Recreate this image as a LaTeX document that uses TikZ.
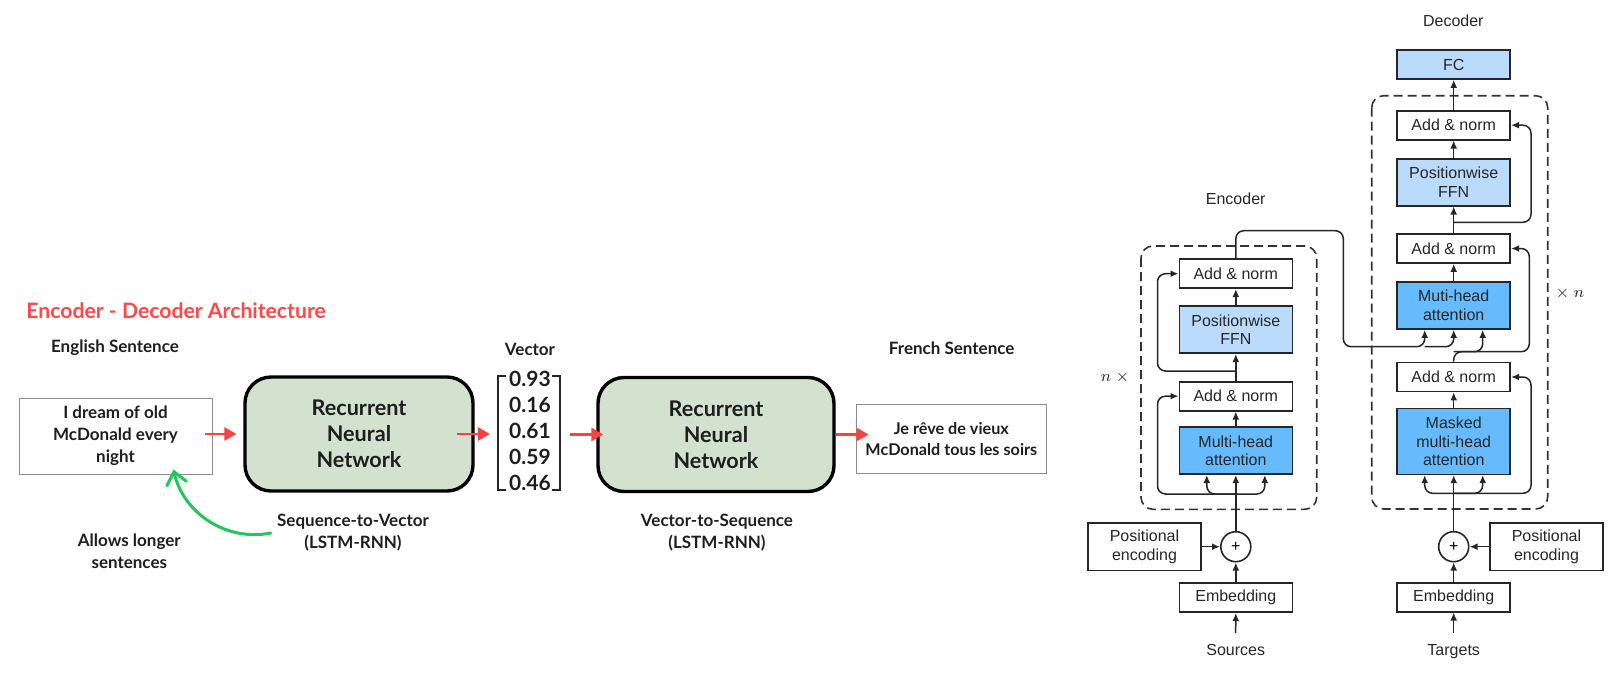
\documentclass[tikz,border=0pt]{standalone}
\usepackage{fontspec}
\setmainfont{Liberation Sans}
\newfontfamily\cvfont{Lato}
\usetikzlibrary{arrows.meta}
\definecolor{titlered}{RGB}{255,72,72}
\definecolor{arrred}{RGB}{255,64,64}
\definecolor{rnngreen}{RGB}{210,226,207}
\definecolor{curvegreen}{RGB}{34,197,94}
\definecolor{ffnblue}{RGB}{187,219,252}
\definecolor{mhablue}{RGB}{102,187,255}
\definecolor{textgray}{RGB}{30,30,30}
\begin{document}
\begin{tikzpicture}[x=0.5pt,y=-0.5pt,
  cv/.style={font=\cvfont\bfseries\fontsize{8.5}{11}\selectfont, text=textgray, align=center, inner sep=0pt},
  sentbox/.style={cv, draw=black!45, line width=0.5pt, minimum height=38pt},
  rnn/.style={cv, font=\cvfont\bfseries\fontsize{10.8}{13}\selectfont, draw=black, line width=1.7pt, fill=rnngreen, rounded corners=13pt, minimum width=114pt, minimum height=57pt},
  num/.style={cv, font=\cvfont\bfseries\fontsize{10.5}{11}\selectfont},
  vecbox/.style={minimum width=30.85pt, minimum height=56.3pt, inner sep=0pt},
  brk/.style={line width=1pt, black!85},
  redarr/.style={arrred, line width=1.4pt, -{Triangle[length=6pt,width=6.5pt]}},
  greenarr/.style={curvegreen, line width=1.5pt, line cap=round, -{Straight Barb[length=6pt,width=10pt,line cap=round]}},
  blk/.style={draw=black!85, line width=0.8pt, minimum width=56.5pt, minimum height=14.5pt, align=center, inner sep=0pt, text=black!85, font=\fontsize{8}{9.4}\selectfont},
  lbl/.style={inner sep=0pt, text=black!85, text height=6pt, text depth=1.7pt, font=\fontsize{8}{9.4}\selectfont},
  plus/.style={circle, draw=black!85, line width=0.8pt, minimum size=15pt, inner sep=0pt, font=\fontsize{8}{8}\selectfont},
  dashbox/.style={dash pattern=on 4.5pt off 2.5pt, line width=0.8pt, rounded corners=6pt, black!80},
  arr/.style={black!85, line width=0.75pt, -{Latex[length=4pt,width=3.4pt]}}
]
\useasboundingbox (0,0) rectangle (1624,687);

\node[cv, font=\cvfont\bfseries\fontsize{10.6}{12}\selectfont, text=titlered, anchor=west] (title) at (26,311) {Encoder - Decoder Architecture};
\node[cv] (englbl) at (115,348) {English Sentence};
\node[cv] (veclbl) at (530,349) {Vector};
\node[cv] (frlbl) at (951.7,348.3) {French Sentence};

\node[sentbox, minimum width=96.5pt] (src) at (115.5,436) {I dream of old\\McDonald every\\night};
\node[rnn] (rnn1) at (359,434) {Recurrent\\Neural\\Network};
\node[vecbox] (vec) at (529.2,433) {};
\node[rnn, minimum width=118pt] (rnn2) at (716,434.5) {Recurrent\\Neural\\Network};
\node[sentbox, font=\cvfont\bfseries\fontsize{8.1}{10.4}\selectfont, minimum width=95.3pt, minimum height=34.25pt] (tgt) at (951.3,439.2) {Je rêve de vieux\\McDonald tous les soirs};

\foreach \v [count=\i] in {0.93,0.16,0.61,0.59,0.46}
  \node[num] (n\i) at (530,{353+26*\i}) {\v};
\draw[brk] ([xshift=4pt]vec.north west) -- (vec.north west) -- (vec.south west) -- ([xshift=4pt]vec.south west);
\draw[brk] ([xshift=-4pt]vec.north east) -- (vec.north east) -- (vec.south east) -- ([xshift=-4pt]vec.south east);

\draw[redarr] ([xshift=-4pt]src.east |- rnn1.west) -- ([xshift=-3.5pt]rnn1.west);
\draw[redarr] ([xshift=-9pt]rnn1.east) -- ([xshift=-4pt]vec.west |- rnn1.east);
\draw[redarr] ([xshift=5pt]vec.east |- rnn2.west) -- ([xshift=3.5pt]rnn2.west);
\draw[redarr] (rnn2.east) -- ([xshift=6.5pt]tgt.west |- rnn2.east);

\node[cv] (s2v) at (353,533) {Sequence-to-Vector\\(LSTM-RNN)};
\node[cv] (v2s) at (717,533) {Vector-to-Sequence\\(LSTM-RNN)};
\node[cv] (longer) at (129.3,551) {Allows longer\\sentences};
\draw[greenarr] ([xshift=-3pt]s2v.west) .. controls (225,542) and (183,512) .. ([xshift=29pt,yshift=2.5pt]src.south);

\node[lbl] (enclbl) at (1235.7,200) {Encoder};
\node[lbl] (declbl) at (1453.3,21.7) {Decoder};
\node[lbl] (srcs) at (1235.7,651) {Sources};
\node[lbl] (tgts) at (1453.7,651) {Targets};
\node[lbl] (nenc) at (1115,377.3) {$n\;\times$};
\node[lbl] (ndec) at (1570,293.3) {$\times\; n$};

\draw[dashbox] (1141,246) rectangle (1316.7,509.3);
\draw[dashbox] (1371.7,95.7) rectangle (1547.7,509);

\foreach \nm/\xx/\yy in {eadd1/1235.8/396.2, eadd2/1235.8/273.7, dadd1/1453.7/377, dadd2/1453.7/248.5, dadd3/1453.7/125.2}
  \node[blk] (\nm) at (\xx,\yy) {Add \& norm};

\node[blk, fill=mhablue, minimum height=23.5pt] (emha) at (1235.8,450.7) {Multi-head\\attention};
\node[blk, fill=ffnblue, minimum height=23.5pt] (effn) at (1235.8,329.7) {Positionwise\\FFN};
\node[blk] (eemb) at (1235.8,597.7) {Embedding};
\node[blk, minimum height=23.75pt] (epos) at (1144.5,546.7) {Positional\\encoding};
\node[plus] (ec) at (1235.8,546.7) {+};

\node[blk, fill=ffnblue] (dfc) at (1453.7,64.5) {FC};
\node[blk, fill=ffnblue, minimum height=23.5pt] (dffn) at (1453.7,182.2) {Positionwise\\FFN};
\node[blk, fill=mhablue, minimum height=23.5pt] (dmha) at (1453.7,305.5) {Muti-head\\attention};
\node[blk, fill=mhablue, minimum height=33pt] (dmmha) at (1453.7,441.3) {Masked\\multi-head\\attention};
\node[blk] (demb) at (1453.7,597.2) {Embedding};
\node[blk, minimum height=23.75pt] (dpos) at (1546.5,546.7) {Positional\\encoding};
\node[plus] (dc) at (1453.7,546.7) {+};

\coordinate (es1) at (1235.8,494);
\coordinate (es2) at (1235.8,371);
\coordinate (ds1) at (1453.7,493.3);
\coordinate (ds2) at (1453.7,222.3);
\coordinate (eo1) at (1343.3,230.7);
\coordinate (eo2) at (1343.3,346.7);
\coordinate (dq) at (1529.3,351.7);

\draw[arr] ([yshift=5pt]srcs.north) -- (eemb.south);
\draw[arr] (eemb.north) -- (ec.south);
\draw[arr] (epos.east) -- (ec.west);
\draw[arr] (ec.north) -- (emha.south);
\begin{scope}[rounded corners=4pt]
\draw[arr] (es1) -| ([xshift=-14.5pt]emha.south);
\draw[arr] (es1) -| ([xshift=14.5pt]emha.south);
\draw[arr] (es1) -| ([xshift=-10.5pt]eadd1.west) -- (eadd1.west);
\draw[arr] (es2) -| ([xshift=-10.5pt]eadd2.west) -- (eadd2.west);
\draw[arr] (eadd2.north) |- (eo1) -- (eo2) -| ([xshift=-14.5pt]dmha.south);
\draw[arr] ([xshift=-14.5pt]dmha.south |- eo2) -| (dmha.south);
\end{scope}
\draw[arr] (emha.north) -- (eadd1.south);
\draw[arr] (eadd1.north) -- (effn.south);
\draw[arr] (effn.north) -- (eadd2.south);

\draw[arr] ([yshift=5pt]tgts.north) -- (demb.south);
\draw[arr] (demb.north) -- (dc.south);
\draw[arr] (dpos.west) -- (dc.east);
\draw[arr] (dc.north) -- (dmmha.south);
\begin{scope}[rounded corners=4pt]
\draw[arr] (ds1) -| ([xshift=-14.5pt]dmmha.south);
\draw[arr] (ds1) -| ([xshift=14.5pt]dmmha.south);
\draw[arr] (ds1) -| ([xshift=10pt]dadd1.east) -- (dadd1.east);
\draw[arr] (dadd1.north) |- (dq) |- (dadd2.east);
\draw[arr] (dadd1.north |- dq) -| ([xshift=14.5pt]dmha.south);
\draw[arr] (ds2) -| ([xshift=10pt]dadd3.east) -- (dadd3.east);
\end{scope}
\draw[arr] (dmmha.north) -- (dadd1.south);
\draw[arr] (dmha.north) -- (dadd2.south);
\draw[arr] (dadd2.north) -- (dffn.south);
\draw[arr] (dffn.north) -- (dadd3.south);
\draw[arr] (dadd3.north) -- (dfc.south);
\end{tikzpicture}
\end{document}
